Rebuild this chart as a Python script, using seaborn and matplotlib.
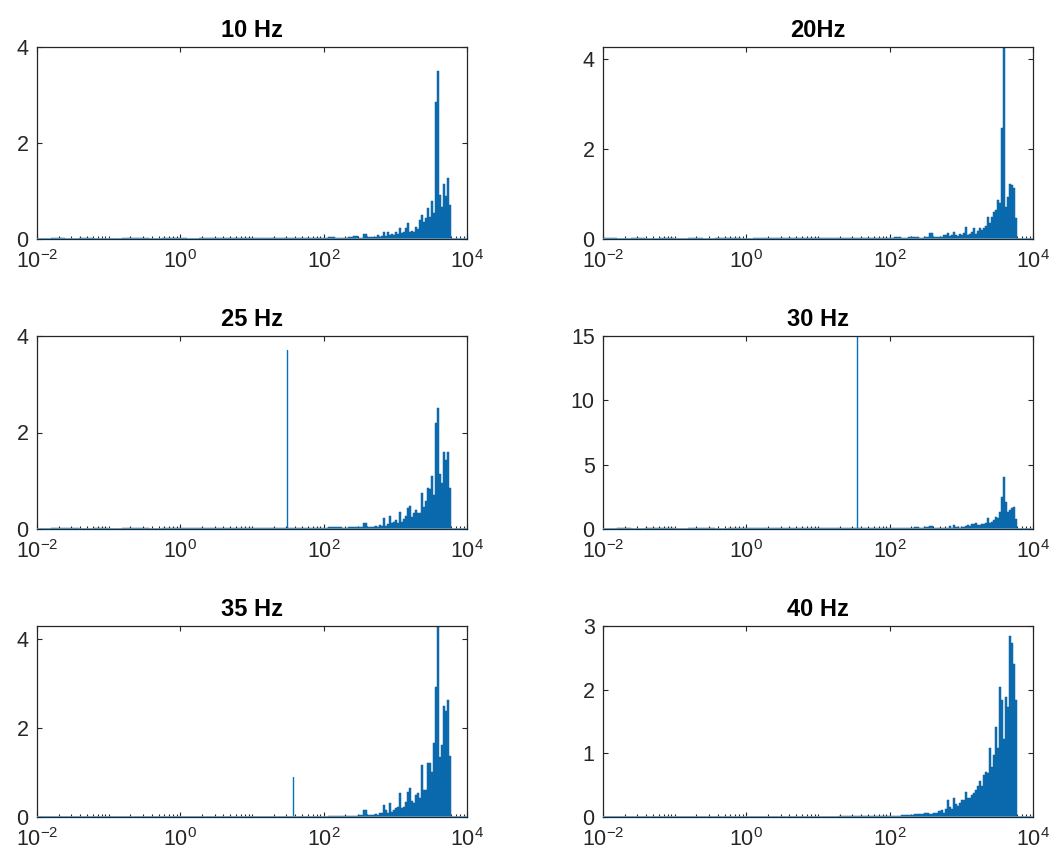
import numpy as np
import matplotlib
matplotlib.use("Agg")
import matplotlib.pyplot as plt
import seaborn as sns
from matplotlib.ticker import FixedLocator, LogFormatterSciNotation, LogLocator, NullFormatter

# ---------------- data ----------------
titles = ["10 Hz", "20Hz", "25 Hz", "30 Hz", "35 Hz", "40 Hz"]

# frequency bins (Hz): low-frequency noise, mid band, high band
freq_hz = [
    0.012, 0.02, 0.03, 0.05, 0.08, 0.12, 0.2, 0.3, 0.45, 0.7, 1.0, 1.5, 2.2, 3.3, 5.0, 7.5, 11, 16, 24, 35, 60,
    100, 130, 160, 200, 240, 280, 330, 380, 440,
    500, 533, 569, 606, 647, 690, 735, 784, 836, 892, 951, 1014, 1082, 1154, 1230, 1312, 1399, 1492, 1591,
    1697, 1810, 1930, 2058, 2195, 2341, 2496, 2662, 2839, 3028, 3229, 3443, 3672, 3916, 4176, 4453, 4749,
    5064, 5401, 5760,
]

amp_10hz = [
    0.01, 0.015, 0.01, 0.012, 0.01, 0.008, 0.012, 0.015, 0.01, 0.02, 0.015, 0.01, 0.015, 0.02, 0.012, 0.015, 0.02, 0.018, 0.025, 0.02, 0.03,
    0.03, 0.04, 0.03, 0.03, 0.04, 0.06, 0.03, 0.10, 0.04,
    0.05, 0.04, 0.08, 0.05, 0.06, 0.15, 0.07, 0.15, 0.08, 0.10, 0.09, 0.15, 0.11, 0.22, 0.12, 0.14, 0.22, 0.34, 0.15,
    0.17, 0.15, 0.25, 0.20, 0.40, 0.50, 0.35, 0.43, 0.64, 0.45, 0.79, 0.55, 2.86, 3.50, 0.92, 0.67, 1.14,
    0.90, 1.28, 0.71,
]
amp_20hz = [
    0.012, 0.01, 0.015, 0.01, 0.012, 0.01, 0.015, 0.01, 0.012, 0.018, 0.01, 0.015, 0.02, 0.012, 0.015, 0.02, 0.015, 0.02, 0.02, 0.025, 0.03,
    0.03, 0.05, 0.03, 0.04, 0.05, 0.03, 0.04, 0.13, 0.05,
    0.05, 0.04, 0.08, 0.10, 0.13, 0.06, 0.10, 0.16, 0.08, 0.07, 0.11, 0.09, 0.13, 0.27, 0.10, 0.12, 0.15, 0.24, 0.12,
    0.17, 0.24, 0.20, 0.24, 0.30, 0.50, 0.35, 0.50, 0.60, 0.64, 0.87, 0.79, 2.46, 4.30, 0.72, 0.94, 1.22,
    1.20, 1.13, 0.46,
]
amp_25hz = [
    0.01, 0.012, 0.015, 0.01, 0.012, 0.01, 0.015, 0.012, 0.01, 0.02, 0.015, 0.012, 0.018, 0.02, 0.015, 0.02, 0.02, 0.025, 0.02, 0.03, 0.03,
    0.03, 0.04, 0.05, 0.03, 0.04, 0.05, 0.04, 0.13, 0.05,
    0.05, 0.06, 0.04, 0.08, 0.07, 0.22, 0.06, 0.10, 0.26, 0.12, 0.15, 0.18, 0.13, 0.36, 0.15, 0.20, 0.26, 0.43, 0.47,
    0.24, 0.33, 0.40, 0.34, 0.34, 0.75, 0.45, 0.57, 0.85, 0.83, 1.09, 0.70, 2.20, 2.50, 1.13, 0.95, 1.60,
    1.44, 1.60, 0.86,
]
amp_30hz = [
    0.03, 0.04, 0.03, 0.05, 0.04, 0.03, 0.05, 0.04, 0.03, 0.05, 0.06, 0.04, 0.05, 0.06, 0.05, 0.06, 0.07, 0.06, 0.08, 0.07, 0.08,
    0.08, 0.10, 0.08, 0.10, 0.12, 0.10, 0.12, 0.26, 0.10,
    0.08, 0.05, 0.10, 0.07, 0.10, 0.26, 0.10, 0.31, 0.12, 0.15, 0.10, 0.14, 0.12, 0.20, 0.31, 0.25, 0.36, 0.39, 0.44,
    0.30, 0.33, 0.39, 0.35, 0.44, 0.88, 0.50, 0.57, 0.70, 0.96, 0.83, 1.35, 2.50, 4.07, 2.10, 1.35, 1.50,
    1.60, 1.70, 0.80,
]
amp_35hz = [
    0.005, 0.005, 0.006, 0.005, 0.005, 0.006, 0.005, 0.005, 0.006, 0.005, 0.005, 0.006, 0.005, 0.006, 0.005, 0.006, 0.005, 0.006, 0.008, 0.008, 0.01,
    0.01, 0.015, 0.02, 0.02, 0.03, 0.03, 0.04, 0.16, 0.05,
    0.05, 0.06, 0.05, 0.08, 0.10, 0.27, 0.15, 0.10, 0.31, 0.12, 0.15, 0.20, 0.23, 0.55, 0.20, 0.23, 0.33, 0.57, 0.65,
    0.35, 0.31, 0.50, 0.53, 0.42, 1.17, 0.60, 0.61, 1.21, 1.21, 1.02, 1.66, 2.92, 4.40, 1.36, 1.62, 2.49,
    2.38, 2.64, 1.38,
]
amp_40hz = [
    0.005, 0.005, 0.006, 0.005, 0.005, 0.006, 0.005, 0.005, 0.006, 0.005, 0.005, 0.006, 0.005, 0.006, 0.005, 0.006, 0.005, 0.006, 0.008, 0.008, 0.01,
    0.02, 0.02, 0.03, 0.03, 0.04, 0.05, 0.06, 0.05, 0.07,
    0.09, 0.11, 0.07, 0.13, 0.27, 0.15, 0.12, 0.30, 0.20, 0.18, 0.22, 0.26, 0.27, 0.40, 0.30, 0.30, 0.35, 0.37, 0.43,
    0.48, 0.56, 0.48, 0.66, 0.71, 0.69, 1.08, 0.79, 0.97, 1.42, 1.08, 2.04, 1.83, 1.23, 1.89, 1.73, 2.85,
    2.74, 2.40, 1.83,
]

# single sharp excitation line visible in some panels (frequency Hz, amplitude)
spike_freq_hz = [None, None, 30.8, 34.7, 37.7, None]
spike_amp = [0.0, 0.0, 3.7, 15.2, 0.89, 0.0]

y_max = [4, 4.27, 4, 15, 4.3, 3]
y_ticks = [[0, 2, 4], [0, 2, 4], [0, 2, 4], [0, 5, 10, 15], [0, 2, 4], [0, 1, 2, 3]]
x_ticks = [1e-2, 1e0, 1e2, 1e4]
x_range = [1e-2, 1e4]

amps = [amp_10hz, amp_20hz, amp_25hz, amp_30hz, amp_35hz, amp_40hz]

# ---------------- style ----------------
sns.set_style("white")
plt.rcParams["font.family"] = ["Liberation Sans", "DejaVu Sans"]
plt.rcParams["mathtext.default"] = "regular"

BLUE = "#0072BD"
EDGE = "#1f5a8c"
BASE = "#4f9fd6"
AX = "#262626"

fig = plt.figure(figsize=(10.55, 8.61), dpi=100)
W, H = 1055.0, 861.0
col_left = [37, 603]
rows = [(47, 239), (336, 529), (626, 817)]
ax_w = 430

f = np.asarray(freq_hz, dtype=float)
mids = np.sqrt(f[:-1] * f[1:])
edges = [x_range[0]] + mids.tolist() + [float(f[-1] * np.sqrt(f[-1] / f[-2]))]

for k in range(6):
    r, c = divmod(k, 2)
    top, bot = rows[r]
    ax = fig.add_axes([col_left[c] / W, 1 - bot / H, ax_w / W, (bot - top) / H])

    sns.histplot(x=f, weights=np.asarray(amps[k], dtype=float), bins=edges, ax=ax,
                 color=BLUE, alpha=1.0, edgecolor=EDGE, linewidth=0.35,
                 stat="count", legend=False)
    if spike_freq_hz[k] is not None:
        sf = spike_freq_hz[k]
        sns.lineplot(x=[sf, sf], y=[0.0, spike_amp[k]], estimator=None, sort=False,
                     ax=ax, color=BLUE, linewidth=1.0)

    ax.set_xscale("log")
    ax.set_xlim(*x_range)
    ax.set_ylim(0, y_max[k])
    ax.set_xlabel("")
    ax.set_ylabel("")
    # bar-chart baseline
    ax.axhline(0, color=BASE, linewidth=1.2, zorder=3)

    ax.xaxis.set_major_locator(FixedLocator(x_ticks))
    ax.xaxis.set_major_formatter(LogFormatterSciNotation())
    ax.xaxis.set_minor_locator(LogLocator(base=10, subs=np.arange(1, 10), numticks=100))
    ax.xaxis.set_minor_formatter(NullFormatter())
    ax.set_yticks(y_ticks[k])

    ax.tick_params(axis="x", which="major", direction="in", top=True, bottom=True,
                   length=3.5, width=0.8, labelsize=15.5, colors=AX, pad=8)
    ax.tick_params(axis="x", which="minor", direction="in", top=False, bottom=True,
                   length=2.2, width=0.8, colors=AX)
    ax.tick_params(axis="y", which="major", direction="in", left=True, right=True,
                   length=3.5, width=0.8, labelsize=15.5, colors=AX, pad=6)

    for s in ax.spines.values():
        s.set_color(AX)
        s.set_linewidth(0.9)
        s.set_visible(True)

    ax.set_title(titles[k], fontsize=17, fontweight="bold", pad=7, color="black")

fig.savefig("out.png", dpi=100)
